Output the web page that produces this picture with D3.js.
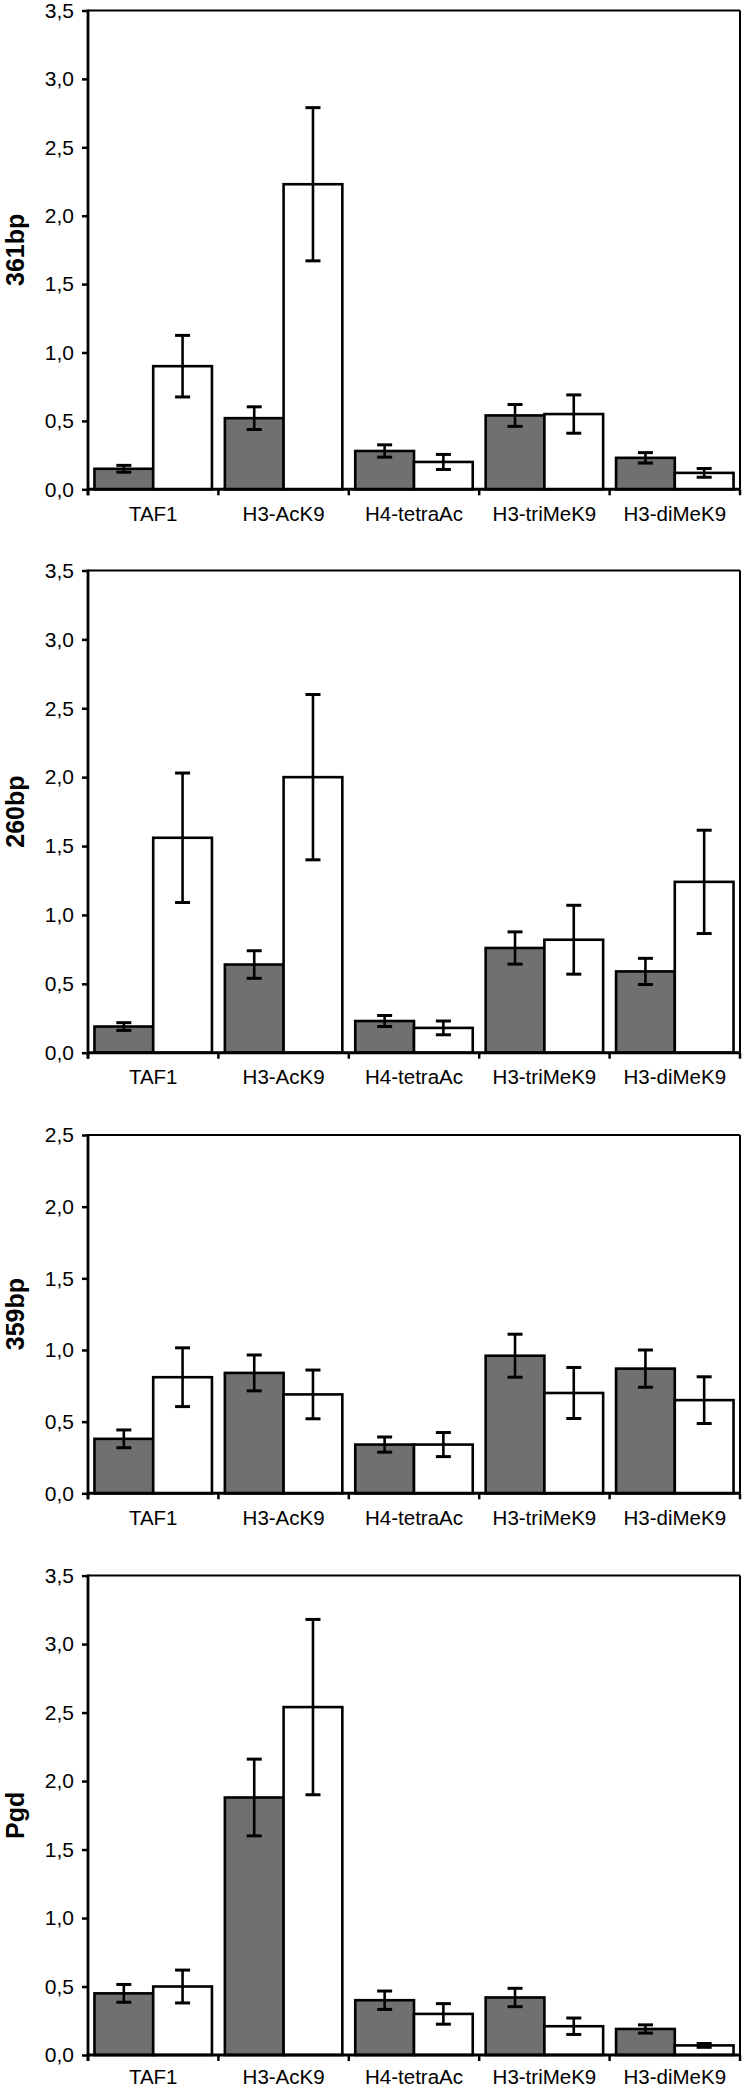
<!DOCTYPE html>
<html>
<head>
<meta charset="utf-8">
<script src="https://cdn.jsdelivr.net/npm/d3@7/dist/d3.min.js"></script>
<style>
  html, body { margin: 0; padding: 0; background: #fff; }
  svg { display: block; }
  text { font-family: "Liberation Sans", Arial, sans-serif; fill: #000; }
</style>
</head>
<body>
<svg id="chart" width="747" height="2089"></svg>
<script>
// ---------- data ----------
const categories = ["TAF1", "H3-AcK9", "H4-tetraAc", "H3-triMeK9", "H3-diMeK9"];
const panelLabels = ["361bp", "260bp", "359bp", "Pgd"];
const panelMax = [3.5, 3.5, 2.5, 3.5];
const yTicks = [0, 0.5, 1, 1.5, 2, 2.5, 3, 3.5];

const bp361Gray     = [0.15, 0.52, 0.28, 0.54, 0.23];
const bp361GrayErr  = [0.025, 0.083, 0.045, 0.08, 0.038];
const bp361White    = [0.90, 2.23, 0.20, 0.55, 0.12];
const bp361WhiteErr = [0.225, 0.56, 0.055, 0.14, 0.032];

const bp260Gray     = [0.19, 0.64, 0.23, 0.76, 0.59];
const bp260GrayErr  = [0.028, 0.10, 0.04, 0.117, 0.095];
const bp260White    = [1.56, 2.00, 0.18, 0.82, 1.24];
const bp260WhiteErr = [0.47, 0.60, 0.05, 0.25, 0.375];

const bp359Gray     = [0.38, 0.84, 0.34, 0.96, 0.87];
const bp359GrayErr  = [0.062, 0.125, 0.053, 0.15, 0.13];
const bp359White    = [0.81, 0.69, 0.34, 0.70, 0.65];
const bp359WhiteErr = [0.205, 0.17, 0.084, 0.178, 0.163];

const pgdGray     = [0.45, 1.88, 0.40, 0.42, 0.19];
const pgdGrayErr  = [0.065, 0.28, 0.067, 0.067, 0.03];
const pgdWhite    = [0.50, 2.54, 0.30, 0.21, 0.07];
const pgdWhiteErr = [0.12, 0.64, 0.075, 0.06, 0.014];

const panelSeries = [
  [bp361Gray, bp361GrayErr, bp361White, bp361WhiteErr],
  [bp260Gray, bp260GrayErr, bp260White, bp260WhiteErr],
  [bp359Gray, bp359GrayErr, bp359White, bp359WhiteErr],
  [pgdGray, pgdGrayErr, pgdWhite, pgdWhiteErr]
];

// ---------- layout ----------
const panelTop = [10.5, 570.5, 1135, 1575.6];
const panelBottom = [489.3, 1052.7, 1493.3, 2055];
const labelPad = [17, 17, 17, 14.5];
const left = 88, right = 740;
const grayFill = "#707070";

const locale = d3.formatLocale({decimal: ",", thousands: ".", grouping: [3], currency: ["", ""]});
const fmt = locale.format(".1f");

const svg = d3.select("#chart");

panelLabels.forEach((label, p) => {
  const [gv, ge, wv, we] = panelSeries[p];
  const y = d3.scaleLinear().domain([0, panelMax[p]]).range([panelBottom[p], panelTop[p]]);
  const x = d3.scaleBand().domain(categories).range([left, right]).padding(0);
  const sub = d3.scaleBand().domain(["g", "w"]).range([0, x.bandwidth()]).paddingInner(0).paddingOuter(0.11);

  const g = svg.append("g");

  // border top/right
  g.append("line").attr("x1", left).attr("x2", right).attr("y1", panelTop[p]).attr("y2", panelTop[p])
    .attr("stroke", "#000").attr("stroke-width", 2);
  g.append("line").attr("x1", right).attr("x2", right).attr("y1", panelTop[p]).attr("y2", panelBottom[p])
    .attr("stroke", "#000").attr("stroke-width", 2);

  // bars
  const rows = categories.map((c, i) => ({c, gv: gv[i], ge: ge[i], wv: wv[i], we: we[i]}));
  const groups = g.selectAll("g.cat").data(rows).enter().append("g")
    .attr("transform", d => `translate(${x(d.c)},0)`);

  [["g", "gv", "ge", grayFill], ["w", "wv", "we", "#fff"]].forEach(([key, vk, ek, fill]) => {
    groups.append("rect")
      .attr("x", sub(key))
      .attr("width", sub.bandwidth())
      .attr("y", d => y(d[vk]))
      .attr("height", d => y(0) - y(d[vk]))
      .attr("fill", fill)
      .attr("stroke", "#000")
      .attr("stroke-width", 2.6);
    const cx = sub(key) + sub.bandwidth() / 2;
    groups.append("line")
      .attr("x1", cx).attr("x2", cx)
      .attr("y1", d => y(d[vk] + d[ek])).attr("y2", d => y(d[vk] - d[ek]))
      .attr("stroke", "#000").attr("stroke-width", 2.6);
    groups.append("line")
      .attr("x1", cx - 7.5).attr("x2", cx + 7.5)
      .attr("y1", d => y(d[vk] + d[ek])).attr("y2", d => y(d[vk] + d[ek]))
      .attr("stroke", "#000").attr("stroke-width", 3);
    groups.append("line")
      .attr("x1", cx - 7.5).attr("x2", cx + 7.5)
      .attr("y1", d => y(d[vk] - d[ek])).attr("y2", d => y(d[vk] - d[ek]))
      .attr("stroke", "#000").attr("stroke-width", 3);
  });

  // y axis
  const yAxis = g.append("g").attr("transform", `translate(${left},0)`)
    .call(d3.axisLeft(y).tickValues(yTicks.filter(t => t <= panelMax[p] + 1e-9))
      .tickFormat(fmt).tickSizeInner(6).tickSizeOuter(0).tickPadding(8));
  yAxis.select(".domain").remove();
  yAxis.selectAll(".tick line").attr("stroke", "#000").attr("stroke-width", 2.5);
  yAxis.selectAll("text").style("font-family", '"Liberation Sans", Arial, sans-serif')
    .style("font-size", "21px").attr("fill", "#000");
  g.append("line").attr("x1", left).attr("x2", left).attr("y1", panelTop[p] - 1).attr("y2", panelBottom[p] + 6)
    .attr("stroke", "#000").attr("stroke-width", 2.8);

  // x axis
  const xAxis = g.append("g").attr("transform", `translate(0,${panelBottom[p]})`)
    .call(d3.axisBottom(x).tickSize(0).tickPadding(labelPad[p]));
  xAxis.select(".domain").attr("stroke", "#000").attr("stroke-width", 3).attr("d", `M${left},0H${right}`);
  xAxis.selectAll("text").style("font-family", '"Liberation Sans", Arial, sans-serif')
    .style("font-size", "20.5px").attr("fill", "#000");
  // category boundary ticks
  const bounds = categories.map(c => x(c)).concat([right]);
  g.selectAll("line.bt").data(bounds).enter().append("line")
    .attr("x1", d => d).attr("x2", d => d)
    .attr("y1", panelBottom[p]).attr("y2", panelBottom[p] + 6)
    .attr("stroke", "#000").attr("stroke-width", 2.5);

  // y title
  const cy = (panelTop[p] + panelBottom[p]) / 2;
  g.append("text")
    .attr("transform", `translate(24,${cy}) rotate(-90)`)
    .attr("text-anchor", "middle")
    .style("font-weight", "bold")
    .style("font-size", "25px")
    .text(label);
});
</script>
</body>
</html>
